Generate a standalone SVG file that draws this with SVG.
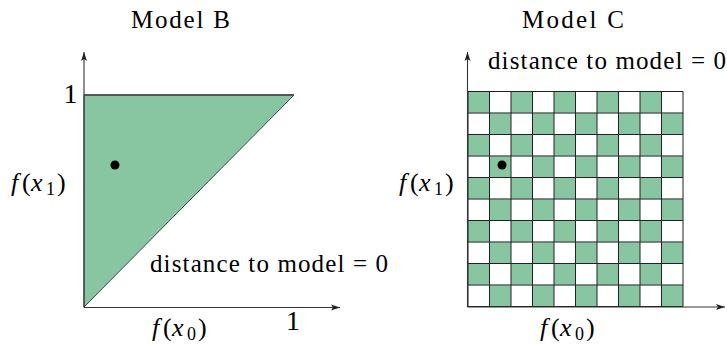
<svg xmlns="http://www.w3.org/2000/svg" width="727" height="344" viewBox="0 0 727 344">
<style>
text{font-family:"Liberation Serif","Times New Roman",serif;fill:#000;font-size:25px}
.it{font-style:italic}
.lab{font-size:26px}
.sub{font-size:18px}
.one{font-size:28px}
.ax{stroke:#333;stroke-width:1.1;fill:none}
.g{fill:#88c5a1}
.cell{stroke:#222;stroke-width:1}
</style>
<defs>
<marker id="arr" markerWidth="10" markerHeight="8" refX="9" refY="4" orient="auto" markerUnits="userSpaceOnUse">
<path d="M0,1 L9,4 L0,7 L2,4 Z" fill="#222"/>
</marker>
<pattern id="chk" x="468" y="91.5" width="43" height="43" patternUnits="userSpaceOnUse">
<rect x="0" y="0" width="43" height="43" fill="#fff"/>
<rect x="0" y="0" width="21.5" height="21.5" class="g"/>
<rect x="21.5" y="21.5" width="21.5" height="21.5" class="g"/>
</pattern>
</defs>

<g id="modelB">
<text x="131" y="28" textLength="99" lengthAdjust="spacing">Model B</text>
<polygon id="triangle" points="84,95 294,95 84,307" class="g" stroke="#444" stroke-width="1"/>
<line x1="84" y1="95" x2="294" y2="95" stroke="#555" stroke-width="2"/>
<circle cx="115" cy="165" r="4.5" fill="#000"/>
<text class="one" x="70.5" y="103" text-anchor="middle">1</text>
<text class="one" x="293" y="330" text-anchor="middle">1</text>
<text class="lab" y="191"><tspan class="it" x="11">f</tspan><tspan x="22">(</tspan><tspan class="it" x="31">x</tspan><tspan class="sub" x="46" dy="4">1</tspan><tspan x="57" dy="-4">)</tspan></text>
<text x="150" y="272" textLength="238" lengthAdjust="spacing">distance to model = 0</text>
<text class="lab" y="336"><tspan class="it" x="152">f</tspan><tspan x="163">(</tspan><tspan class="it" x="172">x</tspan><tspan class="sub" x="187" dy="4">0</tspan><tspan x="198" dy="-4">)</tspan></text>
</g>

<g id="modelC">
<text x="522" y="28" textLength="102" lengthAdjust="spacing">Model C</text>
<rect id="grid" x="468" y="91.5" width="215" height="215" fill="url(#chk)"/>
<g class="cell">
<path d="M468,91.5H683 M468,113H683 M468,134.5H683 M468,156H683 M468,177.5H683 M468,199H683 M468,220.5H683 M468,242H683 M468,263.5H683 M468,285H683 M468,306.5H683"/>
<path d="M468,91.5V306.5 M489.5,91.5V306.5 M511,91.5V306.5 M532.5,91.5V306.5 M554,91.5V306.5 M575.5,91.5V306.5 M597,91.5V306.5 M618.5,91.5V306.5 M640,91.5V306.5 M661.5,91.5V306.5 M683,91.5V306.5"/>
</g>
<circle cx="502" cy="165" r="4.5" fill="#000"/>
<text x="488" y="69" textLength="238" lengthAdjust="spacing">distance to model = 0</text>
<text class="lab" y="191"><tspan class="it" x="399">f</tspan><tspan x="410">(</tspan><tspan class="it" x="419">x</tspan><tspan class="sub" x="434" dy="4">1</tspan><tspan x="445" dy="-4">)</tspan></text>
<text class="lab" y="336"><tspan class="it" x="540">f</tspan><tspan x="551">(</tspan><tspan class="it" x="560">x</tspan><tspan class="sub" x="575" dy="4">0</tspan><tspan x="586" dy="-4">)</tspan></text>
</g>

<g id="connectors">
<line class="ax" x1="84" y1="307.5" x2="84" y2="52" marker-end="url(#arr)"/>
<line class="ax" x1="84" y1="307.5" x2="340" y2="307.5" marker-end="url(#arr)"/>
<line class="ax" x1="467.5" y1="307" x2="467.5" y2="52" marker-end="url(#arr)"/>
<line class="ax" x1="467.5" y1="307" x2="725" y2="307" marker-end="url(#arr)"/>
</g>
</svg>
